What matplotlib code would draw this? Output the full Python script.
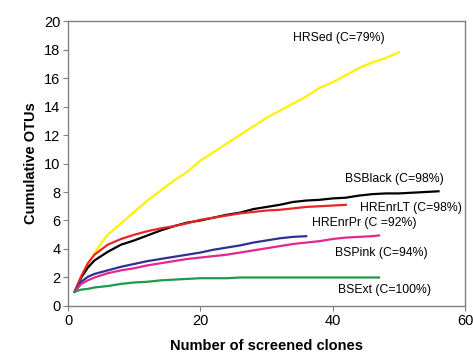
import matplotlib
matplotlib.use("Agg")
import matplotlib.pyplot as plt

plt.rcParams['font.family'] = ['Liberation Sans', 'DejaVu Sans']

# HRSed (C=79%)
hrsed_x = [1, 2, 3, 4, 5, 6, 8, 10, 12, 14, 16, 18, 20, 22, 24, 26, 28, 30, 32, 34, 36, 38, 40, 42, 44, 46, 48, 50]
hrsed_y = [1.0, 2.0, 2.9, 3.7, 4.4, 5.0, 5.8, 6.6, 7.4, 8.1, 8.8, 9.4, 10.2, 10.8, 11.4, 12.0, 12.6, 13.2,
           13.7, 14.2, 14.7, 15.3, 15.7, 16.2, 16.7, 17.1, 17.4, 17.8]

# BSBlack (C=98%)
bsblack_x = [1, 2, 3, 4, 5, 6, 8, 10, 12, 14, 16, 18, 20, 22, 24, 26, 28, 30, 32, 34, 36, 38, 40, 42, 44, 46, 48,
             50, 52, 54, 56]
bsblack_y = [1.0, 2.0, 2.7, 3.2, 3.5, 3.8, 4.3, 4.6, 4.95, 5.3, 5.6, 5.85, 6.0, 6.2, 6.4, 6.55, 6.8, 6.95, 7.1,
             7.3, 7.4, 7.45, 7.55, 7.6, 7.75, 7.85, 7.9, 7.9, 7.95, 8.0, 8.05]

# HREnrLT (C=98%)
hrenrlt_x = [1, 2, 3, 4, 6, 8, 10, 12, 14, 16, 18, 20, 22, 24, 26, 28, 30, 32, 34, 36, 38, 40, 42]
hrenrlt_y = [1.0, 2.1, 3.0, 3.6, 4.3, 4.7, 5.0, 5.25, 5.45, 5.6, 5.8, 6.05, 6.2, 6.35, 6.5, 6.6, 6.7, 6.75,
             6.85, 6.95, 7.0, 7.05, 7.1]

# HREnrPr (C =92%)
hrenrpr_x = [1, 2, 3, 4, 6, 8, 10, 12, 14, 16, 18, 20, 22, 24, 26, 28, 30, 32, 34, 36]
hrenrpr_y = [1.0, 1.7, 2.05, 2.25, 2.5, 2.75, 2.95, 3.15, 3.3, 3.45, 3.6, 3.75, 3.95, 4.1, 4.25, 4.45, 4.6,
             4.75, 4.85, 4.9]

# BSPink (C=94%)
bspink_x = [1, 2, 3, 4, 6, 8, 10, 12, 14, 16, 18, 20, 22, 24, 26, 28, 30, 32, 34, 36, 38, 40, 42, 44, 46, 47]
bspink_y = [1.0, 1.55, 1.8, 2.0, 2.3, 2.5, 2.65, 2.85, 3.0, 3.15, 3.3, 3.4, 3.5, 3.6, 3.75, 3.9, 4.05, 4.2,
            4.35, 4.45, 4.55, 4.7, 4.8, 4.85, 4.9, 4.95]

# BSExt (C=100%)
bsext_x = [1, 2, 3, 4, 6, 8, 10, 12, 14, 16, 18, 20, 22, 24, 26, 30, 35, 40, 47]
bsext_y = [1.0, 1.15, 1.2, 1.3, 1.4, 1.55, 1.65, 1.7, 1.8, 1.85, 1.9, 1.95, 1.95, 1.95, 2.0, 2.0, 2.0, 2.0, 2.0]

fig = plt.figure(figsize=(4.73, 3.52), dpi=100)
ax = fig.add_axes([0.1438, 0.1307, 0.8392, 0.8096])

lw = 1.6
ax.plot(hrsed_x, hrsed_y, color='#FFF200', lw=lw)
ax.plot(bsblack_x, bsblack_y, color='black', lw=lw)
ax.plot(hrenrlt_x, hrenrlt_y, color='#E8262A', lw=lw)
ax.plot(hrenrpr_x, hrenrpr_y, color='#2E3192', lw=lw)
ax.plot(bspink_x, bspink_y, color='#E3278D', lw=lw)
ax.plot(bsext_x, bsext_y, color='#1E9A48', lw=lw)

# étiquettes des courbes
fs = 8.8
ax.text(41.0, 18.8, 'HRSed (C=79%)', fontsize=fs, ha='center', va='center')
ax.text(49.4, 8.9, 'BSBlack (C=98%)', fontsize=fs, ha='center', va='center')
ax.text(51.8, 6.9, 'HREnrLT (C=98%)', fontsize=fs, ha='center', va='center')
ax.text(44.8, 5.85, 'HREnrPr (C =92%)', fontsize=fs, ha='center', va='center')
ax.text(47.4, 3.74, 'BSPink (C=94%)', fontsize=fs, ha='center', va='center')
ax.text(47.8, 1.12, 'BSExt (C=100%)', fontsize=fs, ha='center', va='center')

ax.set_xlim(0, 60)
ax.set_ylim(0, 20)
ax.set_xticks([0, 20, 40, 60])
ax.set_yticks(range(0, 21, 2))
for s in ax.spines.values():
    s.set_color('#808080')
    s.set_linewidth(1.0)
ax.tick_params(direction='out', length=3.5, color='#808080', labelsize=10.5, pad=2)

ax.set_xlabel('Number of screened clones', fontsize=10.5, fontweight='bold', labelpad=8)
ax.set_ylabel('Cumulative OTUs', fontsize=10.5, fontweight='bold', labelpad=4)

fig.savefig('out.png', dpi=100)
